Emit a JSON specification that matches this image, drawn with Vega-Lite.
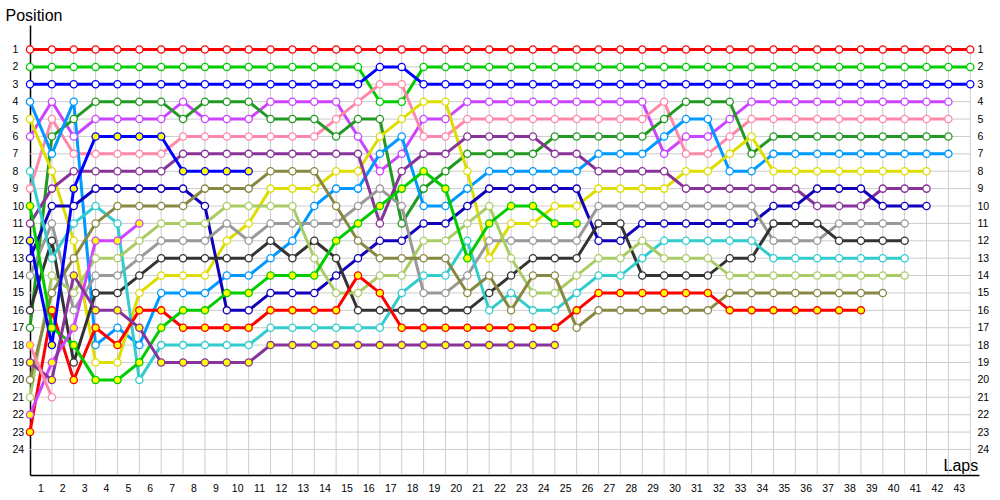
{
"$schema":"https://vega.github.io/schema/vega-lite/v6.json",
"width":949,"height":450,
"autosize":{"type":"none"},
"padding":{"left":30,"top":25,"right":21,"bottom":25},
"background":"#FFFFFF",
"config":{"view":{"stroke":null},"font":"Liberation Sans","axis":{"labelFont":"Liberation Sans","titleFont":"Liberation Sans","labelColor":"#000000","titleColor":"#000000","labelFontSize":10.5,"titleFontWeight":"normal","grid":false,"ticks":false,"labelOverlap":false,"labelBound":false,"labelFlush":false}},
"datasets":{
"gx":[{"v":1},{"v":2},{"v":3},{"v":4},{"v":5},{"v":6},{"v":7},{"v":8},{"v":9},{"v":10},{"v":11},{"v":12},{"v":13},{"v":14},{"v":15},{"v":16},{"v":17},{"v":18},{"v":19},{"v":20},{"v":21},{"v":22},{"v":23},{"v":24},{"v":25},{"v":26},{"v":27},{"v":28},{"v":29},{"v":30},{"v":31},{"v":32},{"v":33},{"v":34},{"v":35},{"v":36},{"v":37},{"v":38},{"v":39},{"v":40},{"v":41},{"v":42},{"v":43}],
"gy":[{"v":1},{"v":2},{"v":3},{"v":4},{"v":5},{"v":6},{"v":7},{"v":8},{"v":9},{"v":10},{"v":11},{"v":12},{"v":13},{"v":14},{"v":15},{"v":16},{"v":17},{"v":18},{"v":19},{"v":20},{"v":21},{"v":22},{"v":23},{"v":24}],
"pts":[
{"d":"R","l":0,"p":1},{"d":"R","l":1,"p":1},{"d":"R","l":2,"p":1},{"d":"R","l":3,"p":1},{"d":"R","l":4,"p":1},{"d":"R","l":5,"p":1},{"d":"R","l":6,"p":1},{"d":"R","l":7,"p":1},{"d":"R","l":8,"p":1},{"d":"R","l":9,"p":1},{"d":"R","l":10,"p":1},{"d":"R","l":11,"p":1},{"d":"R","l":12,"p":1},{"d":"R","l":13,"p":1},{"d":"R","l":14,"p":1},{"d":"R","l":15,"p":1},{"d":"R","l":16,"p":1},{"d":"R","l":17,"p":1},{"d":"R","l":18,"p":1},{"d":"R","l":19,"p":1},{"d":"R","l":20,"p":1},{"d":"R","l":21,"p":1},{"d":"R","l":22,"p":1},{"d":"R","l":23,"p":1},{"d":"R","l":24,"p":1},{"d":"R","l":25,"p":1},{"d":"R","l":26,"p":1},{"d":"R","l":27,"p":1},{"d":"R","l":28,"p":1},{"d":"R","l":29,"p":1},{"d":"R","l":30,"p":1},{"d":"R","l":31,"p":1},{"d":"R","l":32,"p":1},{"d":"R","l":33,"p":1},{"d":"R","l":34,"p":1},{"d":"R","l":35,"p":1},{"d":"R","l":36,"p":1},{"d":"R","l":37,"p":1},{"d":"R","l":38,"p":1},{"d":"R","l":39,"p":1},{"d":"R","l":40,"p":1},{"d":"R","l":41,"p":1},{"d":"R","l":42,"p":1},{"d":"R","l":43,"p":1},
{"d":"G","l":0,"p":2},{"d":"G","l":1,"p":2},{"d":"G","l":2,"p":2},{"d":"G","l":3,"p":2},{"d":"G","l":4,"p":2},{"d":"G","l":5,"p":2},{"d":"G","l":6,"p":2},{"d":"G","l":7,"p":2},{"d":"G","l":8,"p":2},{"d":"G","l":9,"p":2},{"d":"G","l":10,"p":2},{"d":"G","l":11,"p":2},{"d":"G","l":12,"p":2},{"d":"G","l":13,"p":2},{"d":"G","l":14,"p":2},{"d":"G","l":15,"p":2},{"d":"G","l":16,"p":4},{"d":"G","l":17,"p":4},{"d":"G","l":18,"p":2},{"d":"G","l":19,"p":2},{"d":"G","l":20,"p":2},{"d":"G","l":21,"p":2},{"d":"G","l":22,"p":2},{"d":"G","l":23,"p":2},{"d":"G","l":24,"p":2},{"d":"G","l":25,"p":2},{"d":"G","l":26,"p":2},{"d":"G","l":27,"p":2},{"d":"G","l":28,"p":2},{"d":"G","l":29,"p":2},{"d":"G","l":30,"p":2},{"d":"G","l":31,"p":2},{"d":"G","l":32,"p":2},{"d":"G","l":33,"p":2},{"d":"G","l":34,"p":2},{"d":"G","l":35,"p":2},{"d":"G","l":36,"p":2},{"d":"G","l":37,"p":2},{"d":"G","l":38,"p":2},{"d":"G","l":39,"p":2},{"d":"G","l":40,"p":2},{"d":"G","l":41,"p":2},{"d":"G","l":42,"p":2},{"d":"G","l":43,"p":2},
{"d":"B","l":0,"p":3},{"d":"B","l":1,"p":3},{"d":"B","l":2,"p":3},{"d":"B","l":3,"p":3},{"d":"B","l":4,"p":3},{"d":"B","l":5,"p":3},{"d":"B","l":6,"p":3},{"d":"B","l":7,"p":3},{"d":"B","l":8,"p":3},{"d":"B","l":9,"p":3},{"d":"B","l":10,"p":3},{"d":"B","l":11,"p":3},{"d":"B","l":12,"p":3},{"d":"B","l":13,"p":3},{"d":"B","l":14,"p":3},{"d":"B","l":15,"p":3},{"d":"B","l":16,"p":2},{"d":"B","l":17,"p":2},{"d":"B","l":18,"p":3},{"d":"B","l":19,"p":3},{"d":"B","l":20,"p":3},{"d":"B","l":21,"p":3},{"d":"B","l":22,"p":3},{"d":"B","l":23,"p":3},{"d":"B","l":24,"p":3},{"d":"B","l":25,"p":3},{"d":"B","l":26,"p":3},{"d":"B","l":27,"p":3},{"d":"B","l":28,"p":3},{"d":"B","l":29,"p":3},{"d":"B","l":30,"p":3},{"d":"B","l":31,"p":3},{"d":"B","l":32,"p":3},{"d":"B","l":33,"p":3},{"d":"B","l":34,"p":3},{"d":"B","l":35,"p":3},{"d":"B","l":36,"p":3},{"d":"B","l":37,"p":3},{"d":"B","l":38,"p":3},{"d":"B","l":39,"p":3},{"d":"B","l":40,"p":3},{"d":"B","l":41,"p":3},{"d":"B","l":42,"p":3},{"d":"B","l":43,"p":3},
{"d":"V","l":0,"p":6},{"d":"V","l":1,"p":4},{"d":"V","l":2,"p":6},{"d":"V","l":3,"p":5},{"d":"V","l":4,"p":5},{"d":"V","l":5,"p":5},{"d":"V","l":6,"p":5},{"d":"V","l":7,"p":4},{"d":"V","l":8,"p":5},{"d":"V","l":9,"p":5},{"d":"V","l":10,"p":5},{"d":"V","l":11,"p":4},{"d":"V","l":12,"p":4},{"d":"V","l":13,"p":4},{"d":"V","l":14,"p":4},{"d":"V","l":15,"p":6},{"d":"V","l":16,"p":8},{"d":"V","l":17,"p":7},{"d":"V","l":18,"p":5},{"d":"V","l":19,"p":5},{"d":"V","l":20,"p":4},{"d":"V","l":21,"p":4},{"d":"V","l":22,"p":4},{"d":"V","l":23,"p":4},{"d":"V","l":24,"p":4},{"d":"V","l":25,"p":4},{"d":"V","l":26,"p":4},{"d":"V","l":27,"p":4},{"d":"V","l":28,"p":4},{"d":"V","l":29,"p":7},{"d":"V","l":30,"p":6},{"d":"V","l":31,"p":6},{"d":"V","l":32,"p":5},{"d":"V","l":33,"p":4},{"d":"V","l":34,"p":4},{"d":"V","l":35,"p":4},{"d":"V","l":36,"p":4},{"d":"V","l":37,"p":4},{"d":"V","l":38,"p":4},{"d":"V","l":39,"p":4},{"d":"V","l":40,"p":4},{"d":"V","l":41,"p":4},{"d":"V","l":42,"p":4},
{"d":"K","l":0,"p":9},{"d":"K","l":1,"p":5},{"d":"K","l":2,"p":7},{"d":"K","l":3,"p":7},{"d":"K","l":4,"p":7},{"d":"K","l":5,"p":7},{"d":"K","l":6,"p":7},{"d":"K","l":7,"p":6},{"d":"K","l":8,"p":6},{"d":"K","l":9,"p":6},{"d":"K","l":10,"p":6},{"d":"K","l":11,"p":6},{"d":"K","l":12,"p":6},{"d":"K","l":13,"p":6},{"d":"K","l":14,"p":5},{"d":"K","l":15,"p":4},{"d":"K","l":16,"p":3},{"d":"K","l":17,"p":3},{"d":"K","l":18,"p":6},{"d":"K","l":19,"p":6},{"d":"K","l":20,"p":5},{"d":"K","l":21,"p":5},{"d":"K","l":22,"p":5},{"d":"K","l":23,"p":5},{"d":"K","l":24,"p":5},{"d":"K","l":25,"p":5},{"d":"K","l":26,"p":5},{"d":"K","l":27,"p":5},{"d":"K","l":28,"p":5},{"d":"K","l":29,"p":4},{"d":"K","l":30,"p":7},{"d":"K","l":31,"p":7},{"d":"K","l":32,"p":6},{"d":"K","l":33,"p":5},{"d":"K","l":34,"p":5},{"d":"K","l":35,"p":5},{"d":"K","l":36,"p":5},{"d":"K","l":37,"p":5},{"d":"K","l":38,"p":5},{"d":"K","l":39,"p":5},{"d":"K","l":40,"p":5},{"d":"K","l":41,"p":5},{"d":"K","l":42,"p":5},
{"d":"DG","l":0,"p":17},{"d":"DG","l":1,"p":6},{"d":"DG","l":2,"p":5},{"d":"DG","l":3,"p":4},{"d":"DG","l":4,"p":4},{"d":"DG","l":5,"p":4},{"d":"DG","l":6,"p":4},{"d":"DG","l":7,"p":5},{"d":"DG","l":8,"p":4},{"d":"DG","l":9,"p":4},{"d":"DG","l":10,"p":4},{"d":"DG","l":11,"p":5},{"d":"DG","l":12,"p":5},{"d":"DG","l":13,"p":5},{"d":"DG","l":14,"p":6},{"d":"DG","l":15,"p":5},{"d":"DG","l":16,"p":5},{"d":"DG","l":17,"p":11},{"d":"DG","l":18,"p":9},{"d":"DG","l":19,"p":8},{"d":"DG","l":20,"p":7},{"d":"DG","l":21,"p":7},{"d":"DG","l":22,"p":7},{"d":"DG","l":23,"p":7},{"d":"DG","l":24,"p":6},{"d":"DG","l":25,"p":6},{"d":"DG","l":26,"p":6},{"d":"DG","l":27,"p":6},{"d":"DG","l":28,"p":6},{"d":"DG","l":29,"p":5},{"d":"DG","l":30,"p":4},{"d":"DG","l":31,"p":4},{"d":"DG","l":32,"p":4},{"d":"DG","l":33,"p":7},{"d":"DG","l":34,"p":6},{"d":"DG","l":35,"p":6},{"d":"DG","l":36,"p":6},{"d":"DG","l":37,"p":6},{"d":"DG","l":38,"p":6},{"d":"DG","l":39,"p":6},{"d":"DG","l":40,"p":6},{"d":"DG","l":41,"p":6},{"d":"DG","l":42,"p":6},
{"d":"SB","l":0,"p":4},{"d":"SB","l":1,"p":7},{"d":"SB","l":2,"p":4},{"d":"SB","l":3,"p":18},{"d":"SB","l":4,"p":17},{"d":"SB","l":5,"p":18},{"d":"SB","l":6,"p":15},{"d":"SB","l":7,"p":15},{"d":"SB","l":8,"p":15},{"d":"SB","l":9,"p":14},{"d":"SB","l":10,"p":14},{"d":"SB","l":11,"p":13},{"d":"SB","l":12,"p":12},{"d":"SB","l":13,"p":10},{"d":"SB","l":14,"p":9},{"d":"SB","l":15,"p":9},{"d":"SB","l":16,"p":7},{"d":"SB","l":17,"p":6},{"d":"SB","l":18,"p":10},{"d":"SB","l":19,"p":10},{"d":"SB","l":20,"p":9},{"d":"SB","l":21,"p":8},{"d":"SB","l":22,"p":8},{"d":"SB","l":23,"p":8},{"d":"SB","l":24,"p":8},{"d":"SB","l":25,"p":8},{"d":"SB","l":26,"p":7},{"d":"SB","l":27,"p":7},{"d":"SB","l":28,"p":7},{"d":"SB","l":29,"p":6},{"d":"SB","l":30,"p":5},{"d":"SB","l":31,"p":5},{"d":"SB","l":32,"p":8},{"d":"SB","l":33,"p":8},{"d":"SB","l":34,"p":7},{"d":"SB","l":35,"p":7},{"d":"SB","l":36,"p":7},{"d":"SB","l":37,"p":7},{"d":"SB","l":38,"p":7},{"d":"SB","l":39,"p":7},{"d":"SB","l":40,"p":7},{"d":"SB","l":41,"p":7},{"d":"SB","l":42,"p":7},
{"d":"Y","l":0,"p":5},{"d":"Y","l":1,"p":8},{"d":"Y","l":2,"p":12},{"d":"Y","l":3,"p":19},{"d":"Y","l":4,"p":19},{"d":"Y","l":5,"p":15},{"d":"Y","l":6,"p":14},{"d":"Y","l":7,"p":14},{"d":"Y","l":8,"p":14},{"d":"Y","l":9,"p":12},{"d":"Y","l":10,"p":11},{"d":"Y","l":11,"p":9},{"d":"Y","l":12,"p":9},{"d":"Y","l":13,"p":9},{"d":"Y","l":14,"p":8},{"d":"Y","l":15,"p":8},{"d":"Y","l":16,"p":6},{"d":"Y","l":17,"p":5},{"d":"Y","l":18,"p":4},{"d":"Y","l":19,"p":4},{"d":"Y","l":20,"p":8},{"d":"Y","l":21,"p":13},{"d":"Y","l":22,"p":11},{"d":"Y","l":23,"p":11},{"d":"Y","l":24,"p":10},{"d":"Y","l":25,"p":10},{"d":"Y","l":26,"p":9},{"d":"Y","l":27,"p":9},{"d":"Y","l":28,"p":9},{"d":"Y","l":29,"p":9},{"d":"Y","l":30,"p":8},{"d":"Y","l":31,"p":8},{"d":"Y","l":32,"p":7},{"d":"Y","l":33,"p":6},{"d":"Y","l":34,"p":8},{"d":"Y","l":35,"p":8},{"d":"Y","l":36,"p":8},{"d":"Y","l":37,"p":8},{"d":"Y","l":38,"p":8},{"d":"Y","l":39,"p":8},{"d":"Y","l":40,"p":8},{"d":"Y","l":41,"p":8},
{"d":"DP","l":0,"p":11},{"d":"DP","l":1,"p":9},{"d":"DP","l":2,"p":8},{"d":"DP","l":3,"p":8},{"d":"DP","l":4,"p":8},{"d":"DP","l":5,"p":8},{"d":"DP","l":6,"p":8},{"d":"DP","l":7,"p":7},{"d":"DP","l":8,"p":7},{"d":"DP","l":9,"p":7},{"d":"DP","l":10,"p":7},{"d":"DP","l":11,"p":7},{"d":"DP","l":12,"p":7},{"d":"DP","l":13,"p":7},{"d":"DP","l":14,"p":7},{"d":"DP","l":15,"p":7},{"d":"DP","l":16,"p":11},{"d":"DP","l":17,"p":8},{"d":"DP","l":18,"p":7},{"d":"DP","l":19,"p":7},{"d":"DP","l":20,"p":6},{"d":"DP","l":21,"p":6},{"d":"DP","l":22,"p":6},{"d":"DP","l":23,"p":6},{"d":"DP","l":24,"p":7},{"d":"DP","l":25,"p":7},{"d":"DP","l":26,"p":8},{"d":"DP","l":27,"p":8},{"d":"DP","l":28,"p":8},{"d":"DP","l":29,"p":8},{"d":"DP","l":30,"p":9},{"d":"DP","l":31,"p":9},{"d":"DP","l":32,"p":9},{"d":"DP","l":33,"p":9},{"d":"DP","l":34,"p":9},{"d":"DP","l":35,"p":9},{"d":"DP","l":36,"p":10},{"d":"DP","l":37,"p":10},{"d":"DP","l":38,"p":10},{"d":"DP","l":39,"p":9},{"d":"DP","l":40,"p":9},{"d":"DP","l":41,"p":9},
{"d":"N","l":0,"p":13},{"d":"N","l":1,"p":10},{"d":"N","l":2,"p":10},{"d":"N","l":3,"p":9},{"d":"N","l":4,"p":9},{"d":"N","l":5,"p":9},{"d":"N","l":6,"p":9},{"d":"N","l":7,"p":9},{"d":"N","l":8,"p":10},{"d":"N","l":9,"p":16},{"d":"N","l":10,"p":16},{"d":"N","l":11,"p":15},{"d":"N","l":12,"p":15},{"d":"N","l":13,"p":15},{"d":"N","l":14,"p":14},{"d":"N","l":15,"p":13},{"d":"N","l":16,"p":12},{"d":"N","l":17,"p":12},{"d":"N","l":18,"p":11},{"d":"N","l":19,"p":11},{"d":"N","l":20,"p":10},{"d":"N","l":21,"p":9},{"d":"N","l":22,"p":9},{"d":"N","l":23,"p":9},{"d":"N","l":24,"p":9},{"d":"N","l":25,"p":9},{"d":"N","l":26,"p":12},{"d":"N","l":27,"p":12},{"d":"N","l":28,"p":11},{"d":"N","l":29,"p":11},{"d":"N","l":30,"p":11},{"d":"N","l":31,"p":11},{"d":"N","l":32,"p":11},{"d":"N","l":33,"p":11},{"d":"N","l":34,"p":10},{"d":"N","l":35,"p":10},{"d":"N","l":36,"p":9},{"d":"N","l":37,"p":9},{"d":"N","l":38,"p":9},{"d":"N","l":39,"p":10},{"d":"N","l":40,"p":10},{"d":"N","l":41,"p":10},
{"d":"GR","l":0,"p":14},{"d":"GR","l":1,"p":11},{"d":"GR","l":2,"p":16},{"d":"GR","l":3,"p":14},{"d":"GR","l":4,"p":14},{"d":"GR","l":5,"p":13},{"d":"GR","l":6,"p":12},{"d":"GR","l":7,"p":12},{"d":"GR","l":8,"p":12},{"d":"GR","l":9,"p":11},{"d":"GR","l":10,"p":12},{"d":"GR","l":11,"p":11},{"d":"GR","l":12,"p":11},{"d":"GR","l":13,"p":11},{"d":"GR","l":14,"p":11},{"d":"GR","l":15,"p":10},{"d":"GR","l":16,"p":9},{"d":"GR","l":17,"p":10},{"d":"GR","l":18,"p":15},{"d":"GR","l":19,"p":15},{"d":"GR","l":20,"p":14},{"d":"GR","l":21,"p":12},{"d":"GR","l":22,"p":12},{"d":"GR","l":23,"p":12},{"d":"GR","l":24,"p":12},{"d":"GR","l":25,"p":12},{"d":"GR","l":26,"p":10},{"d":"GR","l":27,"p":10},{"d":"GR","l":28,"p":10},{"d":"GR","l":29,"p":10},{"d":"GR","l":30,"p":10},{"d":"GR","l":31,"p":10},{"d":"GR","l":32,"p":10},{"d":"GR","l":33,"p":10},{"d":"GR","l":34,"p":12},{"d":"GR","l":35,"p":12},{"d":"GR","l":36,"p":12},{"d":"GR","l":37,"p":11},{"d":"GR","l":38,"p":11},{"d":"GR","l":39,"p":11},{"d":"GR","l":40,"p":11},
{"d":"BK","l":0,"p":16},{"d":"BK","l":1,"p":12},{"d":"BK","l":2,"p":19},{"d":"BK","l":3,"p":15},{"d":"BK","l":4,"p":15},{"d":"BK","l":5,"p":14},{"d":"BK","l":6,"p":13},{"d":"BK","l":7,"p":13},{"d":"BK","l":8,"p":13},{"d":"BK","l":9,"p":13},{"d":"BK","l":10,"p":13},{"d":"BK","l":11,"p":12},{"d":"BK","l":12,"p":13},{"d":"BK","l":13,"p":12},{"d":"BK","l":14,"p":13},{"d":"BK","l":15,"p":16},{"d":"BK","l":16,"p":16},{"d":"BK","l":17,"p":16},{"d":"BK","l":18,"p":16},{"d":"BK","l":19,"p":16},{"d":"BK","l":20,"p":16},{"d":"BK","l":21,"p":15},{"d":"BK","l":22,"p":14},{"d":"BK","l":23,"p":13},{"d":"BK","l":24,"p":13},{"d":"BK","l":25,"p":13},{"d":"BK","l":26,"p":11},{"d":"BK","l":27,"p":11},{"d":"BK","l":28,"p":14},{"d":"BK","l":29,"p":14},{"d":"BK","l":30,"p":14},{"d":"BK","l":31,"p":14},{"d":"BK","l":32,"p":13},{"d":"BK","l":33,"p":13},{"d":"BK","l":34,"p":11},{"d":"BK","l":35,"p":11},{"d":"BK","l":36,"p":11},{"d":"BK","l":37,"p":12},{"d":"BK","l":38,"p":12},{"d":"BK","l":39,"p":12},{"d":"BK","l":40,"p":12},
{"d":"C","l":0,"p":8},{"d":"C","l":1,"p":13},{"d":"C","l":2,"p":11},{"d":"C","l":3,"p":10},{"d":"C","l":4,"p":11},{"d":"C","l":5,"p":20},{"d":"C","l":6,"p":18},{"d":"C","l":7,"p":18},{"d":"C","l":8,"p":18},{"d":"C","l":9,"p":18},{"d":"C","l":10,"p":18},{"d":"C","l":11,"p":17},{"d":"C","l":12,"p":17},{"d":"C","l":13,"p":17},{"d":"C","l":14,"p":17},{"d":"C","l":15,"p":17},{"d":"C","l":16,"p":17},{"d":"C","l":17,"p":15},{"d":"C","l":18,"p":14},{"d":"C","l":19,"p":14},{"d":"C","l":20,"p":12},{"d":"C","l":21,"p":16},{"d":"C","l":22,"p":15},{"d":"C","l":23,"p":16},{"d":"C","l":24,"p":16},{"d":"C","l":25,"p":15},{"d":"C","l":26,"p":14},{"d":"C","l":27,"p":14},{"d":"C","l":28,"p":13},{"d":"C","l":29,"p":12},{"d":"C","l":30,"p":12},{"d":"C","l":31,"p":12},{"d":"C","l":32,"p":12},{"d":"C","l":33,"p":12},{"d":"C","l":34,"p":13},{"d":"C","l":35,"p":13},{"d":"C","l":36,"p":13},{"d":"C","l":37,"p":13},{"d":"C","l":38,"p":13},{"d":"C","l":39,"p":13},{"d":"C","l":40,"p":13},
{"d":"LG","l":0,"p":21},{"d":"LG","l":1,"p":14},{"d":"LG","l":2,"p":15},{"d":"LG","l":3,"p":13},{"d":"LG","l":4,"p":13},{"d":"LG","l":5,"p":12},{"d":"LG","l":6,"p":11},{"d":"LG","l":7,"p":11},{"d":"LG","l":8,"p":11},{"d":"LG","l":9,"p":10},{"d":"LG","l":10,"p":10},{"d":"LG","l":11,"p":10},{"d":"LG","l":12,"p":10},{"d":"LG","l":13,"p":13},{"d":"LG","l":14,"p":15},{"d":"LG","l":15,"p":15},{"d":"LG","l":16,"p":14},{"d":"LG","l":17,"p":14},{"d":"LG","l":18,"p":12},{"d":"LG","l":19,"p":12},{"d":"LG","l":20,"p":11},{"d":"LG","l":21,"p":10},{"d":"LG","l":22,"p":13},{"d":"LG","l":23,"p":15},{"d":"LG","l":24,"p":15},{"d":"LG","l":25,"p":14},{"d":"LG","l":26,"p":13},{"d":"LG","l":27,"p":13},{"d":"LG","l":28,"p":12},{"d":"LG","l":29,"p":13},{"d":"LG","l":30,"p":13},{"d":"LG","l":31,"p":13},{"d":"LG","l":32,"p":14},{"d":"LG","l":33,"p":14},{"d":"LG","l":34,"p":14},{"d":"LG","l":35,"p":14},{"d":"LG","l":36,"p":14},{"d":"LG","l":37,"p":14},{"d":"LG","l":38,"p":14},{"d":"LG","l":39,"p":14},{"d":"LG","l":40,"p":14},
{"d":"OL","l":0,"p":20},{"d":"OL","l":1,"p":15},{"d":"OL","l":2,"p":13},{"d":"OL","l":3,"p":11},{"d":"OL","l":4,"p":10},{"d":"OL","l":5,"p":10},{"d":"OL","l":6,"p":10},{"d":"OL","l":7,"p":10},{"d":"OL","l":8,"p":9},{"d":"OL","l":9,"p":9},{"d":"OL","l":10,"p":9},{"d":"OL","l":11,"p":8},{"d":"OL","l":12,"p":8},{"d":"OL","l":13,"p":8},{"d":"OL","l":14,"p":10},{"d":"OL","l":15,"p":12},{"d":"OL","l":16,"p":13},{"d":"OL","l":17,"p":13},{"d":"OL","l":18,"p":13},{"d":"OL","l":19,"p":13},{"d":"OL","l":20,"p":15},{"d":"OL","l":21,"p":14},{"d":"OL","l":22,"p":16},{"d":"OL","l":23,"p":14},{"d":"OL","l":24,"p":14},{"d":"OL","l":25,"p":17},{"d":"OL","l":26,"p":16},{"d":"OL","l":27,"p":16},{"d":"OL","l":28,"p":16},{"d":"OL","l":29,"p":16},{"d":"OL","l":30,"p":16},{"d":"OL","l":31,"p":16},{"d":"OL","l":32,"p":15},{"d":"OL","l":33,"p":15},{"d":"OL","l":34,"p":15},{"d":"OL","l":35,"p":15},{"d":"OL","l":36,"p":15},{"d":"OL","l":37,"p":15},{"d":"OL","l":38,"p":15},{"d":"OL","l":39,"p":15},
{"d":"RY","l":0,"p":23,"f":"y"},{"d":"RY","l":1,"p":16,"f":"y"},{"d":"RY","l":2,"p":20,"f":"y"},{"d":"RY","l":3,"p":17,"f":"y"},{"d":"RY","l":4,"p":18,"f":"y"},{"d":"RY","l":5,"p":16,"f":"y"},{"d":"RY","l":6,"p":16,"f":"y"},{"d":"RY","l":7,"p":17,"f":"y"},{"d":"RY","l":8,"p":17,"f":"y"},{"d":"RY","l":9,"p":17,"f":"y"},{"d":"RY","l":10,"p":17,"f":"y"},{"d":"RY","l":11,"p":16,"f":"y"},{"d":"RY","l":12,"p":16,"f":"y"},{"d":"RY","l":13,"p":16,"f":"y"},{"d":"RY","l":14,"p":16,"f":"y"},{"d":"RY","l":15,"p":14,"f":"y"},{"d":"RY","l":16,"p":15,"f":"y"},{"d":"RY","l":17,"p":17,"f":"y"},{"d":"RY","l":18,"p":17,"f":"y"},{"d":"RY","l":19,"p":17,"f":"y"},{"d":"RY","l":20,"p":17,"f":"y"},{"d":"RY","l":21,"p":17,"f":"y"},{"d":"RY","l":22,"p":17,"f":"y"},{"d":"RY","l":23,"p":17,"f":"y"},{"d":"RY","l":24,"p":17,"f":"y"},{"d":"RY","l":25,"p":16,"f":"y"},{"d":"RY","l":26,"p":15,"f":"y"},{"d":"RY","l":27,"p":15,"f":"y"},{"d":"RY","l":28,"p":15,"f":"y"},{"d":"RY","l":29,"p":15,"f":"y"},{"d":"RY","l":30,"p":15,"f":"y"},{"d":"RY","l":31,"p":15,"f":"y"},{"d":"RY","l":32,"p":16,"f":"y"},{"d":"RY","l":33,"p":16,"f":"y"},{"d":"RY","l":34,"p":16,"f":"y"},{"d":"RY","l":35,"p":16,"f":"y"},{"d":"RY","l":36,"p":16,"f":"y"},{"d":"RY","l":37,"p":16,"f":"y"},{"d":"RY","l":38,"p":16,"f":"y"},
{"d":"GY","l":0,"p":10,"f":"y"},{"d":"GY","l":1,"p":17,"f":"y"},{"d":"GY","l":2,"p":18,"f":"y"},{"d":"GY","l":3,"p":20,"f":"y"},{"d":"GY","l":4,"p":20,"f":"y"},{"d":"GY","l":5,"p":19,"f":"y"},{"d":"GY","l":6,"p":17,"f":"y"},{"d":"GY","l":7,"p":16,"f":"y"},{"d":"GY","l":8,"p":16,"f":"y"},{"d":"GY","l":9,"p":15,"f":"y"},{"d":"GY","l":10,"p":15,"f":"y"},{"d":"GY","l":11,"p":14,"f":"y"},{"d":"GY","l":12,"p":14,"f":"y"},{"d":"GY","l":13,"p":14,"f":"y"},{"d":"GY","l":14,"p":12,"f":"y"},{"d":"GY","l":15,"p":11,"f":"y"},{"d":"GY","l":16,"p":10,"f":"y"},{"d":"GY","l":17,"p":9,"f":"y"},{"d":"GY","l":18,"p":8,"f":"y"},{"d":"GY","l":19,"p":9,"f":"y"},{"d":"GY","l":20,"p":13,"f":"y"},{"d":"GY","l":21,"p":11,"f":"y"},{"d":"GY","l":22,"p":10,"f":"y"},{"d":"GY","l":23,"p":10,"f":"y"},{"d":"GY","l":24,"p":11,"f":"y"},{"d":"GY","l":25,"p":11,"f":"y"},
{"d":"BY","l":0,"p":12,"f":"y"},{"d":"BY","l":1,"p":18,"f":"y"},{"d":"BY","l":2,"p":9,"f":"y"},{"d":"BY","l":3,"p":6,"f":"y"},{"d":"BY","l":4,"p":6,"f":"y"},{"d":"BY","l":5,"p":6,"f":"y"},{"d":"BY","l":6,"p":6,"f":"y"},{"d":"BY","l":7,"p":8,"f":"y"},{"d":"BY","l":8,"p":8,"f":"y"},{"d":"BY","l":9,"p":8,"f":"y"},{"d":"BY","l":10,"p":8,"f":"y"},
{"d":"VY","l":0,"p":22,"f":"y"},{"d":"VY","l":1,"p":19,"f":"y"},{"d":"VY","l":2,"p":17,"f":"y"},{"d":"VY","l":3,"p":12,"f":"y"},{"d":"VY","l":4,"p":12,"f":"y"},{"d":"VY","l":5,"p":11,"f":"y"},
{"d":"DPY","l":0,"p":19,"f":"y"},{"d":"DPY","l":1,"p":20,"f":"y"},{"d":"DPY","l":2,"p":14,"f":"y"},{"d":"DPY","l":3,"p":16,"f":"y"},{"d":"DPY","l":4,"p":16,"f":"y"},{"d":"DPY","l":5,"p":17,"f":"y"},{"d":"DPY","l":6,"p":19,"f":"y"},{"d":"DPY","l":7,"p":19,"f":"y"},{"d":"DPY","l":8,"p":19,"f":"y"},{"d":"DPY","l":9,"p":19,"f":"y"},{"d":"DPY","l":10,"p":19,"f":"y"},{"d":"DPY","l":11,"p":18,"f":"y"},{"d":"DPY","l":12,"p":18,"f":"y"},{"d":"DPY","l":13,"p":18,"f":"y"},{"d":"DPY","l":14,"p":18,"f":"y"},{"d":"DPY","l":15,"p":18,"f":"y"},{"d":"DPY","l":16,"p":18,"f":"y"},{"d":"DPY","l":17,"p":18,"f":"y"},{"d":"DPY","l":18,"p":18,"f":"y"},{"d":"DPY","l":19,"p":18,"f":"y"},{"d":"DPY","l":20,"p":18,"f":"y"},{"d":"DPY","l":21,"p":18,"f":"y"},{"d":"DPY","l":22,"p":18,"f":"y"},{"d":"DPY","l":23,"p":18,"f":"y"},{"d":"DPY","l":24,"p":18,"f":"y"},
{"d":"PY","l":0,"p":18,"f":"y"},{"d":"PY","l":1,"p":21}
]},
"layer":[
{"data":{"name":"gx"},"mark":{"type":"rule","color":"#CCCCCC","strokeWidth":1},
 "encoding":{
  "x":{"field":"v","type":"quantitative","scale":{"domain":[0,43.4],"nice":false,"zero":false},
   "axis":{"orient":"bottom","values":[1,2,3,4,5,6,7,8,9,10,11,12,13,14,15,16,17,18,19,20,21,22,23,24,25,26,27,28,29,30,31,32,33,34,35,36,37,38,39,40,41,42,43],"format":"d","labelOffset":-11.5,"labelPadding":8,"labelAngle":0,"domainColor":"#000000","domainWidth":1.5,"title":"Laps","titleFontSize":16,"titleX":913,"titleY":-5,"titleAlign":"left","titleBaseline":"alphabetic","titleAnchor":null}},
  "y":{"datum":1,"type":"quantitative","scale":{"domain":[-0.41,25.47],"reverse":true,"nice":false,"zero":false},
   "axis":{"orient":"left","values":[1,2,3,4,5,6,7,8,9,10,11,12,13,14,15,16,17,18,19,20,21,22,23,24],"labelAlign":"left","labelPadding":18,"domainColor":"#000000","domainWidth":1.5,"title":"Position","titleFontSize":16,"titleAngle":0,"titleAlign":"left","titleBaseline":"top","titleX":-25,"titleY":-18}},
  "y2":{"datum":25.47}}},
{"data":{"name":"gy"},"mark":{"type":"rule","color":"#CCCCCC","strokeWidth":1},
 "encoding":{
  "y":{"field":"v","type":"quantitative","scale":{"domain":[-0.41,25.47],"reverse":true,"nice":false,"zero":false},
   "axis":{"orient":"right","values":[1,2,3,4,5,6,7,8,9,10,11,12,13,14,15,16,17,18,19,20,21,22,23,24],"labelAlign":"left","labelPadding":-2,"domain":false,"title":null}},
  "x":{"datum":0,"type":"quantitative","scale":{"domain":[0,43.4],"nice":false,"zero":false},"axis":null},
  "x2":{"datum":43}}},
{"data":{"name":"pts"},"mark":{"type":"line","strokeWidth":3},
 "encoding":{
  "x":{"field":"l","type":"quantitative","scale":{"domain":[0,43.4],"nice":false,"zero":false},"axis":null},
  "y":{"field":"p","type":"quantitative","scale":{"domain":[-0.41,25.47],"reverse":true,"nice":false,"zero":false},"axis":null},
  "color":{"field":"d","type":"nominal","legend":null,"scale":{"domain":["R","G","B","V","K","DG","SB","Y","DP","N","GR","BK","C","LG","OL","RY","GY","BY","VY","DPY","PY"],"range":["#FF0000","#00CC00","#0000FF","#CC44FF","#FF88AA","#229922","#0099FF","#DDDD00","#883399","#1100BB","#999999","#333333","#33CCCC","#AACC66","#888844","#FF0000","#00CC00","#0000FF","#CC44FF","#883399","#FF88AA"]}}}},
{"data":{"name":"pts"},"mark":{"type":"point","shape":"circle","filled":true,"size":52,"strokeWidth":1.3,"opacity":1},
 "encoding":{
  "x":{"field":"l","type":"quantitative","scale":{"domain":[0,43.4],"nice":false,"zero":false},"axis":null},
  "y":{"field":"p","type":"quantitative","scale":{"domain":[-0.41,25.47],"reverse":true,"nice":false,"zero":false},"axis":null},
  "stroke":{"field":"d","type":"nominal","legend":null,"scale":{"domain":["R","G","B","V","K","DG","SB","Y","DP","N","GR","BK","C","LG","OL","RY","GY","BY","VY","DPY","PY"],"range":["#FF0000","#00CC00","#0000FF","#CC44FF","#FF88AA","#229922","#0099FF","#DDDD00","#883399","#1100BB","#999999","#333333","#33CCCC","#AACC66","#888844","#FF0000","#00CC00","#0000FF","#CC44FF","#883399","#FF88AA"]}},
  "fill":{"condition":{"test":"datum.f === 'y'","value":"#FFFF00"},"value":"#FFFFFF"}}}
],
"resolve":{"axis":{"x":"independent","y":"independent"}}
}
